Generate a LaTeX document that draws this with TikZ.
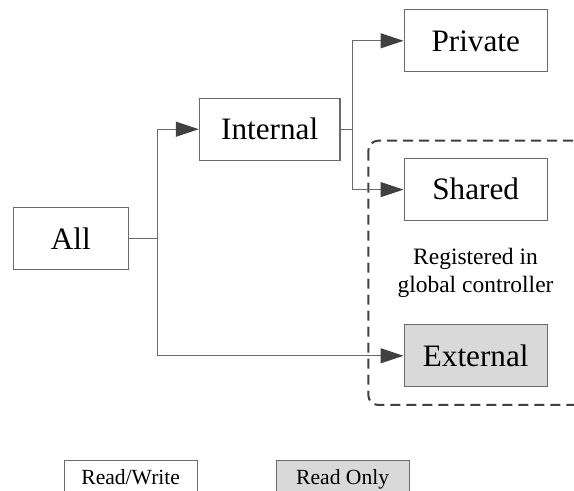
\documentclass[tikz,border=0pt]{standalone}
\usepackage{fontspec}
\setmainfont{Liberation Serif}
\usetikzlibrary{arrows.meta,positioning}
\definecolor{linegray}{HTML}{6A6A6A}
\definecolor{tipgray}{HTML}{404040}
\definecolor{boxfill}{HTML}{D9D9D9}
\tikzset{
    %Define style for boxes
    level/.style={
           rectangle,
           draw=linegray, line width=0.6pt,
           inner sep=0pt,
           minimum width=71.6pt,
           minimum height=31pt,
           text height=10.3pt, text depth=0pt,
           font=\fontsize{15.6}{18}\selectfont,
           text centered},
    rocell/.style={level, fill=boxfill},
    % legend boxes
    legend/.style={level, minimum width=66.4pt, minimum height=17pt,
           text height=7.1pt, font=\fontsize{10.8}{13}\selectfont},
    % Define arrow style
    pil/.style={
           draw=linegray, line width=0.6pt,
           -{Triangle[length=11.5pt,width=7.5pt,color=tipgray]}},
    % registered area
    region/.style={draw=tipgray, line width=1pt,
           dash pattern=on 5pt off 3pt, rounded corners=5pt}
}
\begin{document}
\begin{tikzpicture}[x=0.5pt,y=-0.5pt]
\clip (0,0) rectangle (574,491);

 %nodes
\node[level, minimum width=57.5pt] (all) at (70.8,238.8) {All};
\node[level, minimum width=70.3pt] (internal) at (269.7,129.2) {Internal};
\node[level] (private) at (475.7,40.8) {Private};
\node[level, below=42.8pt of private] (shared) {Shared};
\node[rocell, below=51.5pt of shared] (external) {External};
\node[align=center, font=\fontsize{11.75}{14}\selectfont] (note) at (475.5,273)
    {Registered in\\global controller};

 %registered region
\draw[region] (368.3,140.7) rectangle (610,405);

 %connectors
\draw[pil] (all.east) -- ++(28.4,0) |- (internal.west);
\draw[pil] (all.east) -- ++(28.4,0) |- (external.west);
\draw[pil] (internal.east) -- ++(11.7,0) |- (private.west);
\draw[pil] (internal.east) -- ++(11.7,0) |- (shared.west);

 %legend
\node[legend] (rw) at (130.7,477.7) {Read/Write};
\node[legend, fill=boxfill, right=39pt of rw] (ro) {Read Only};
\end{tikzpicture}
\end{document}
